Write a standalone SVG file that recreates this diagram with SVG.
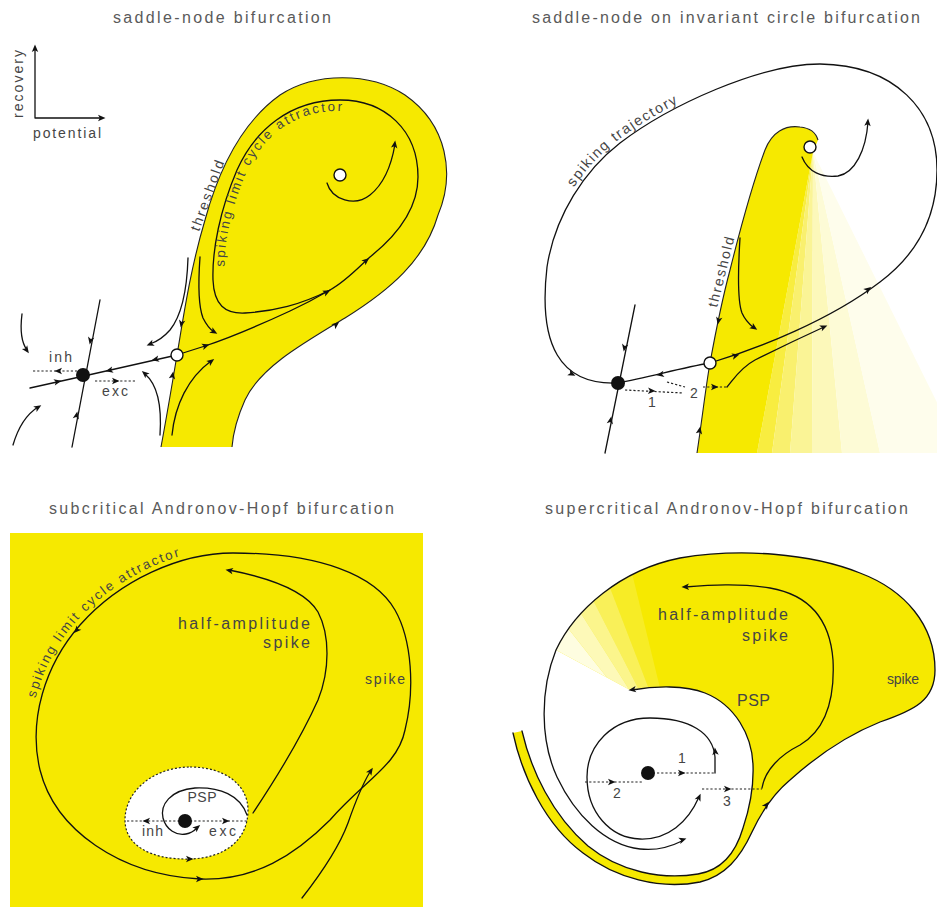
<svg xmlns="http://www.w3.org/2000/svg" width="937" height="907" viewBox="0 0 937 907">
<defs>
<style>
.t{font-family:"Liberation Sans",Arial,Helvetica,sans-serif;fill:#454545}
.ti{font-size:16px;fill:#5a5a5a}
.lb{font-size:14px}
.ln{fill:none;stroke:#111;stroke-width:1.3;stroke-linecap:round}
.dt{fill:none;stroke:#222;stroke-width:1.2;stroke-dasharray:2.2 2}
.yl{fill:#F6E900}
.ol{fill:none;stroke:#222;stroke-width:1.1}
.op{fill:#fff;stroke:#111;stroke-width:1.4}
.fd{fill:#111}
</style>
<path id="ah" d="M1.5,0 L-6,-3.2 L-4.2,0 L-6,3.2 Z" fill="#111"/>
<path id="tp-tl" d="M213,280 C212,250 220,210 237,170 C255,130 290,100 340,100 C385,100 418,130 418,177" fill="none"/>
<path id="tp-tr" d="M547,267 C555,215 585,170 620,143 C670,105 760,64 820,64" fill="none"/>
<path id="tp-bl" d="M40,770 C28,720 45,665 80,625 C120,580 180,553 233,553 C290,553 350,560 395,610" fill="none"/>
<clipPath id="brclip"><path d="M556,650 C575,610 620,570 680,558 C740,548 810,553 860,573 C905,590 935,625 935,670 C935,700 915,710 880,722 C840,738 810,762 790,780 C772,795 760,815 752,832 C740,858 725,876 700,882 C660,890 615,878 583,853 C545,825 522,775 513,733 L522,731 C531,770 552,815 588,846 C620,872 662,880 698,874 C722,870 736,852 743,828 C749,810 754,790 753,765 C752,735 735,705 705,693 C685,685 655,686 630,690 Z"/></clipPath>
</defs>
<rect width="937" height="907" fill="#fff"/>

<!-- ===== Top-left: saddle-node bifurcation ===== -->
<g id="panel-saddle-node">
<text class="t ti" x="222" y="23" text-anchor="middle" textLength="218">saddle-node bifurcation</text>
<g id="tl-axes">
<path class="ln" d="M35,118 V50 M35,118 H100"/>
<use href="#ah" transform="translate(35,46) rotate(-90)"/>
<use href="#ah" transform="translate(104,118)"/>
<text class="t lb" transform="translate(23,84) rotate(-90)" text-anchor="middle" textLength="68">recovery</text>
<text class="t lb" x="33" y="138" textLength="68">potential</text>
</g>
<g id="tl-attraction-domain">
<path class="yl" d="M161,447 C166,420 172,385 177,355 C183,320 190,270 205,220 C220,165 245,120 280,95 C315,72 370,72 405,95 C448,125 455,175 438,215 C425,260 390,290 345,318 C300,345 260,368 245,400 C236,420 233,435 232,447 Z"/>
<path class="ol" d="M161,447 C166,420 172,385 177,355 C183,320 190,270 205,220 C220,165 245,120 280,95 C315,72 370,72 405,95 C448,125 455,175 438,215 C425,260 390,290 345,318 C300,345 260,368 245,400 C236,420 233,435 232,447"/>
</g>
<g id="tl-connectors">
<path class="ln" d="M370,257 C395,237 418,210 418,177 C418,130 385,100 340,100 C290,100 255,130 237,170 C220,210 212,250 213,280 C214,305 225,314 245,313 C275,311 300,305 330,290 C345,282 358,268 370,257 Z"/>
<path class="ln" d="M183,353 L205,346 C232,337 262,324 290,311 C305,304 318,297 330,290"/>
<path class="ln" d="M327,183 C332,200 355,207 370,195 C385,183 392,162 395,144"/>
<path class="ln" d="M188,258 C187,290 182,315 170,330 C163,338 156,342 150,344"/>
<path class="ln" d="M200,257 C198,285 198,305 203,318 C207,326 211,330 214,332"/>
<path class="ln" d="M160,435 C162,405 158,385 145,374"/>
<path class="ln" d="M172,435 C175,405 188,378 211,361"/>
<path class="ln" d="M100,300 L72,447"/>
<path class="ln" d="M30,388 L84,376 L177,355"/>
<path class="dt" d="M33,371 H77 M95,381 H135"/>
<path class="ln" d="M22,314 C20,330 21,342 27,350"/>
<path class="ln" d="M13,445 C18,428 27,414 38,407"/>
<use href="#ah" transform="translate(181,326) rotate(101)"/>
<use href="#ah" transform="translate(173,373) rotate(-80)"/>
<use href="#ah" transform="translate(338,323) rotate(-38)"/>
<use href="#ah" transform="translate(208,345) rotate(-18)"/>
<use href="#ah" transform="translate(329,291) rotate(-27)"/>
<use href="#ah" transform="translate(368,259) rotate(-40)"/>
<use href="#ah" transform="translate(395,142) rotate(-82)"/>
<use href="#ah" transform="translate(148,345) rotate(158)"/>
<use href="#ah" transform="translate(216,333) rotate(30)"/>
<use href="#ah" transform="translate(143,372) rotate(-139)"/>
<use href="#ah" transform="translate(213,360) rotate(-36)"/>
<use href="#ah" transform="translate(90,343) rotate(101)"/>
<use href="#ah" transform="translate(77,413) rotate(-79)"/>
<use href="#ah" transform="translate(60,381) rotate(-12.5)"/>
<use href="#ah" transform="translate(107,371) rotate(167)"/>
<use href="#ah" transform="translate(153,360) rotate(167)"/>
<use href="#ah" transform="translate(56,371) rotate(180)"/>
<use href="#ah" transform="translate(118,381)"/>
<use href="#ah" transform="translate(28,352) rotate(55)"/>
<use href="#ah" transform="translate(40,406) rotate(-32)"/>
</g>
<g id="tl-node"><circle class="fd" cx="83" cy="375" r="7"/></g>
<g id="tl-saddle"><circle class="op" cx="177" cy="355" r="6"/></g>
<g id="tl-focus"><circle class="op" cx="340" cy="175" r="6"/></g>
<text class="t lb" transform="translate(199,232) rotate(-70)" textLength="74">threshold</text>
<g transform="translate(318,200) scale(0.89) translate(-318,-200)"><text class="t" font-size="15" letter-spacing="2.5"><textPath href="#tp-tl" startOffset="5">spiking limit cycle attractor</textPath></text></g>
<text class="t lb" x="49" y="362" textLength="23">inh</text>
<text class="t lb" x="102" y="396" textLength="26">exc</text>
</g>

<!-- ===== Top-right: SNIC ===== -->
<g id="panel-snic">
<text class="t ti" x="726" y="23" text-anchor="middle" textLength="388">saddle-node on invariant circle bifurcation</text>
<g id="tr-attraction-domain">
<polygon fill="#F8ED40" points="813,152 757,453 772,453"/>
<polygon fill="#F9F06E" points="813,152 772,453 790,453"/>
<polygon fill="#FAF496" points="813,152 790,453 812,453"/>
<polygon fill="#FCF8BA" points="813,152 812,453 842,453"/>
<polygon fill="#FDFBD6" points="813,152 842,453 880,453"/>
<polygon fill="#FEFDEC" points="813,152 880,453 962,453"/>
<path class="yl" d="M697,453 C702,420 706,385 710,363 C716,330 722,300 730,270 C740,230 752,185 765,150 C772,132 785,125 800,127 C810,128 816,133 818,140 L813,152 L757,453 Z"/>
<path class="ol" d="M697,453 C702,420 706,385 710,363 C716,330 722,300 730,270 C740,230 752,185 765,150 C772,132 785,125 800,127 C810,128 816,133 818,140"/>
</g>
<g id="tr-connectors">
<path class="ln" d="M710,363 C760,348 830,320 880,282 C920,252 937,215 937,170 C937,110 895,65 820,64 C760,64 670,105 620,143 C585,170 555,215 547,267 C538,345 560,385 617,383"/>
<path class="ln" d="M710,363 C680,368 650,377 617,383"/>
<path class="ln" d="M635,305 L605,453"/>
<path class="ln" d="M802,157 C808,172 822,178 838,176 C855,173 866,150 868,122"/>
<path class="ln" d="M740,238 C738,270 737,300 742,313 C745,320 749,324 754,328"/>
<path class="ln" d="M727,387 C733,380 740,368 755,360 C775,350 800,338 824,327"/>
<path class="dt" d="M625,390 L683,393 M667,382 L685,387 M703,387 L727,387"/>
<use href="#ah" transform="translate(870,288) rotate(-37)"/>
<use href="#ah" transform="translate(738,355) rotate(-15)"/>
<use href="#ah" transform="translate(574,375) rotate(25)"/>
<use href="#ah" transform="translate(658,375) rotate(170)"/>
<use href="#ah" transform="translate(624,350) rotate(101)"/>
<use href="#ah" transform="translate(611,418) rotate(-79)"/>
<use href="#ah" transform="translate(718,323) rotate(102)"/>
<use href="#ah" transform="translate(700,428) rotate(-80)"/>
<use href="#ah" transform="translate(868,120) rotate(-85)"/>
<use href="#ah" transform="translate(756,329) rotate(35)"/>
<use href="#ah" transform="translate(826,326) rotate(-24)"/>
<use href="#ah" transform="translate(654,391) rotate(2)"/>
<use href="#ah" transform="translate(717,387)"/>
</g>
<g id="tr-node"><circle class="fd" cx="618" cy="383" r="7"/></g>
<g id="tr-saddle"><circle class="op" cx="710" cy="363" r="6"/></g>
<g id="tr-unstable"><circle class="op" cx="810" cy="147" r="6"/></g>
<text class="t lb" transform="translate(717,308) rotate(-76)" textLength="72">threshold</text>
<g transform="translate(740,230) scale(1.025) translate(-740,-230)"><text class="t" font-size="14" letter-spacing="1.6"><textPath href="#tp-tr" startOffset="85">spiking trajectory</textPath></text></g>
<text class="t lb" x="652" y="407" text-anchor="middle">1</text>
<text class="t lb" x="694" y="398" text-anchor="middle">2</text>
</g>

<!-- ===== Bottom-left: subcritical Andronov-Hopf ===== -->
<g id="panel-subcritical">
<text class="t ti" x="221.5" y="514" text-anchor="middle" textLength="345">subcritical Andronov-Hopf bifurcation</text>
<rect class="yl" x="10" y="533" width="413" height="374"/>
<g id="bl-attraction-domain">
<path d="M190,767 C225,767 248,785 248,810 C248,840 225,858 190,859 C150,860 125,845 125,820 C125,790 155,767 190,767 Z" fill="#fff" stroke="#222" stroke-width="1.2" stroke-dasharray="2 2"/>
</g>
<g id="bl-connectors">
<path class="ln" d="M233,553 C180,553 120,580 80,625 C45,665 28,720 40,770 C55,830 120,875 200,879 C255,881 295,855 330,820 C365,780 398,765 405,730 C415,690 412,640 395,610 C375,575 320,553 233,553 Z"/>
<path class="ln" d="M253,813 C275,780 300,740 318,700 C330,670 330,635 318,612 C305,590 270,578 229,570"/>
<path class="ln" d="M302,898 C320,875 338,850 348,823 C356,800 362,785 370,772"/>
<path class="dt" d="M127,821 H247"/>
<path class="ln" d="M247,815 C240,795 220,787 195,788 C170,790 160,805 163,818 C166,830 177,836 186,834 C192,833 195,830 197,828"/>
<use href="#ah" transform="translate(75,632) rotate(132)"/>
<use href="#ah" transform="translate(202,879)"/>
<use href="#ah" transform="translate(227,570) rotate(-170)"/>
<use href="#ah" transform="translate(372,769) rotate(-56)"/>
<use href="#ah" transform="translate(192,859)"/>
<use href="#ah" transform="translate(144,821) rotate(180)"/>
<use href="#ah" transform="translate(228,821)"/>
<use href="#ah" transform="translate(199,826) rotate(-40)"/>
</g>
<g id="bl-rest"><circle class="fd" cx="185" cy="821" r="7"/></g>
<g transform="translate(222,716) scale(1.03) translate(-222,-716)"><text class="t" font-size="13" letter-spacing="1.9"><textPath href="#tp-bl" startOffset="72">spiking limit cycle attractor</textPath></text></g>
<text class="t" font-size="16" x="310" y="629" text-anchor="end" textLength="132">half-amplitude</text>
<text class="t" font-size="16" x="310" y="648" text-anchor="end" textLength="47">spike</text>
<text class="t lb" x="365" y="684" textLength="40">spike</text>
<text class="t lb" x="202" y="802" text-anchor="middle" textLength="29">PSP</text>
<text class="t lb" x="142" y="836" textLength="21">inh</text>
<text class="t lb" x="209" y="836" textLength="27">exc</text>
</g>

<!-- ===== Bottom-right: supercritical Andronov-Hopf ===== -->
<g id="panel-supercritical">
<text class="t ti" x="726.5" y="514" text-anchor="middle" textLength="363">supercritical Andronov-Hopf bifurcation</text>
<g id="br-attraction-domain">
<path class="yl" d="M556,650 C575,610 620,570 680,558 C740,548 810,553 860,573 C905,590 935,625 935,670 C935,700 915,710 880,722 C840,738 810,762 790,780 C772,795 760,815 752,832 C740,858 725,876 700,882 C660,890 615,878 583,853 C545,825 522,775 513,733 L522,731 C531,770 552,815 588,846 C620,872 662,880 698,874 C722,870 736,852 743,828 C749,810 754,790 753,765 C752,735 735,705 705,693 C685,685 655,686 630,690 Z"/>
<g clip-path="url(#brclip)" fill="#fff">
<polygon opacity="0.15" points="680,770 604.2,459.1 565.3,471.3"/>
<polygon opacity="0.35" points="680,770 565.3,471.3 534.2,485.1"/>
<polygon opacity="0.55" points="680,770 534.2,485.1 509,499.5"/>
<polygon opacity="0.72" points="680,770 509,499.5 481.7,518.9"/>
<polygon opacity="0.88" points="680,770 481.7,518.9 449.1,548.5"/>
<polygon points="680,770 449.1,548.5 402.9,610"/>
</g>
</g>
<g id="br-connectors">
<path class="ln" d="M513,733 C522,775 545,825 583,853 C615,878 660,890 700,882 C725,876 740,858 752,832 C760,815 772,795 790,780 C810,762 840,738 880,722 C915,710 935,700 935,670 C935,625 905,590 860,573 C810,553 740,548 680,558 C620,570 575,610 556,650 C540,690 540,740 557,777 C575,815 605,845 640,849 C657,851 670,847 682,841"/>
<path class="ln" d="M522,731 C531,770 552,815 588,846 C620,872 662,880 698,874 C722,870 736,852 743,828 C749,810 754,790 753,765 C752,735 735,705 705,693 C685,685 655,686 632,690"/>
<path class="ln" d="M762,788 C765,770 780,755 800,745 C825,730 835,700 833,660 C830,620 810,595 770,588 C740,583 710,585 685,587"/>
<path class="ln" d="M715,773 L715,757 C713,733 690,718 650,718 C612,718 587,745 587,777 C587,812 610,838 640,839 C668,840 688,822 699,797"/>
<path class="dt" d="M657,773 H715 M585,782 H642 M702,789 H762"/>
<use href="#ah" transform="translate(768,803) rotate(-52)"/>
<use href="#ah" transform="translate(685,839) rotate(-18)"/>
<use href="#ah" transform="translate(630,690) rotate(172)"/>
<use href="#ah" transform="translate(683,587) rotate(178)"/>
<use href="#ah" transform="translate(715,749) rotate(-95)"/>
<use href="#ah" transform="translate(700,795) rotate(-66)"/>
<use href="#ah" transform="translate(684,773)"/>
<use href="#ah" transform="translate(614,782)"/>
<use href="#ah" transform="translate(730,789)"/>
</g>
<g id="br-rest"><circle class="fd" cx="648" cy="773" r="7"/></g>
<text class="t" font-size="16" x="788" y="620" text-anchor="end" textLength="130">half-amplitude</text>
<text class="t" font-size="16" x="788" y="641" text-anchor="end" textLength="46">spike</text>
<text class="t" font-size="16" x="737" y="706" textLength="33">PSP</text>
<text class="t lb" x="887" y="684" textLength="32">spike</text>
<text class="t lb" x="682" y="763" text-anchor="middle">1</text>
<text class="t lb" x="617" y="798" text-anchor="middle">2</text>
<text class="t lb" x="727" y="806" text-anchor="middle">3</text>
</g>
</svg>
